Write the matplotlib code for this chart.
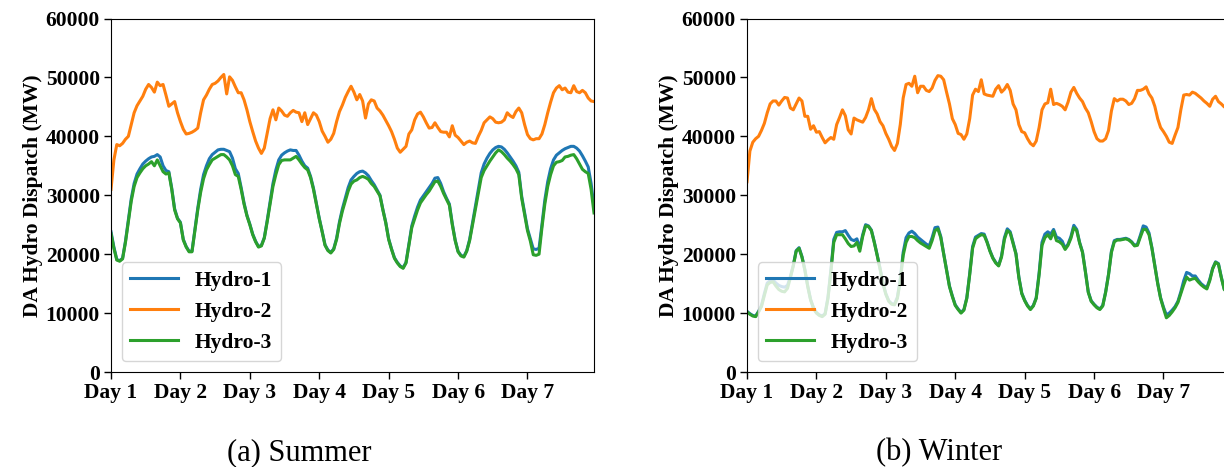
import matplotlib
matplotlib.use("Agg")
import matplotlib.pyplot as plt
import numpy as np

# ---- data (values in thousands of MW, hourly over one week) ----
summer_hydro1 = [23.8, 21.2, 19.1, 18.9, 19.3, 22.2, 25.8, 29.4, 32.0, 33.6, 34.5, 35.3, 35.8, 36.2, 36.5, 36.6, 36.9, 36.5, 35.0, 34.2,
                 34.0, 31.2, 27.7, 26.1, 25.4, 22.5, 21.3, 20.5, 20.5, 24.2, 27.8, 31.0, 33.5, 35.0, 36.2, 36.9, 37.3, 37.7, 37.8, 37.8,
                 37.6, 37.4, 36.3, 34.5, 33.7, 31.3, 28.7, 26.6, 25.1, 23.4, 22.2, 21.3, 21.5, 22.8, 25.7, 28.8, 32.0, 34.3, 36.0, 36.8,
                 37.2, 37.5, 37.7, 37.6, 37.6, 36.8, 35.8, 35.0, 34.6, 33.2, 31.2, 28.6, 26.1, 23.9, 21.6, 20.7, 20.3, 20.9, 22.7, 25.5,
                 27.7, 29.5, 31.3, 32.6, 33.2, 33.7, 34.0, 34.1, 33.8, 33.3, 32.5, 31.8, 30.9, 30.0, 27.6, 25.4, 22.6, 20.9, 19.4, 18.6,
                 18.0, 17.7, 18.6, 21.7, 24.8, 26.5, 28.0, 29.2, 29.9, 30.6, 31.3, 32.0, 32.9, 33.0, 32.0, 30.6, 29.5, 28.5, 25.2, 22.4,
                 20.5, 19.8, 19.6, 20.6, 22.5, 25.3, 28.2, 31.0, 33.8, 35.3, 36.3, 37.1, 37.7, 38.1, 38.3, 38.2, 37.8, 37.2, 36.5, 35.8,
                 35.0, 33.9, 29.8, 27.0, 24.3, 22.6, 20.9, 20.8, 21.0, 25.0, 29.2, 32.3, 34.5, 36.0, 36.8, 37.2, 37.6, 37.9, 38.1, 38.3,
                 38.3, 38.0, 37.5, 36.7, 35.8, 34.8, 32.0, 28.0]
summer_hydro2 = [31.0, 36.0, 38.6, 38.4, 38.8, 39.5, 40.0, 42.0, 44.0, 45.2, 46.0, 46.8, 48.0, 48.8, 48.3, 47.5, 49.2, 48.6, 48.8, 47.0,
                 45.1, 45.5, 45.9, 44.0, 42.5, 41.2, 40.4, 40.5, 40.7, 41.0, 41.4, 44.0, 46.2, 47.0, 48.0, 48.8, 49.0, 49.4, 50.0, 50.5,
                 47.2, 50.1, 49.5, 48.4, 47.4, 47.4, 46.2, 44.5, 42.5, 40.8, 39.2, 38.0, 37.1, 38.0, 40.5, 43.0, 44.5, 42.8, 44.8, 44.3,
                 43.6, 43.4, 44.0, 44.4, 44.1, 44.0, 42.5, 44.0, 42.0, 43.0, 44.0, 43.6, 42.5, 40.9, 40.0, 39.0, 39.5, 40.5, 42.5, 44.2,
                 45.3, 46.6, 47.6, 48.5, 47.5, 46.2, 47.1, 46.0, 43.1, 45.5, 46.2, 46.0, 44.8, 44.3, 43.6, 42.7, 41.8, 40.8, 39.5, 38.0,
                 37.3, 37.8, 38.3, 40.4, 41.1, 42.8, 43.8, 44.1, 43.3, 42.3, 41.4, 41.5, 42.3, 41.5, 40.8, 40.7, 40.7, 39.9, 41.8, 40.2,
                 39.8, 39.2, 38.6, 39.0, 39.2, 38.9, 38.8, 40.0, 41.0, 42.3, 42.8, 43.3, 43.0, 42.4, 42.3, 42.4, 42.8, 44.0, 43.5, 43.2,
                 44.2, 44.8, 44.0, 42.0, 40.3, 39.6, 39.4, 39.6, 39.6, 40.4, 42.0, 44.0, 45.8, 47.4, 48.2, 48.6, 47.9, 48.2, 47.5, 47.4,
                 48.6, 47.6, 47.4, 47.8, 47.4, 46.5, 46.0, 45.9]
summer_hydro3 = [23.5, 21.0, 19.0, 18.8, 19.2, 22.0, 25.5, 29.0, 31.5, 33.0, 33.8, 34.5, 35.0, 35.3, 35.7, 35.0, 36.0, 35.0, 34.0, 33.6,
                 33.8, 31.0, 27.5, 26.0, 25.3, 22.4, 21.2, 20.4, 20.4, 24.0, 27.5, 30.5, 32.8, 34.3, 35.2, 36.0, 36.3, 36.6, 36.9, 36.9,
                 36.5, 36.0, 35.0, 33.5, 33.2, 31.0, 28.5, 26.5, 25.0, 23.3, 22.1, 21.2, 21.4, 22.7, 25.5, 28.5, 31.5, 33.5, 35.2, 35.9,
                 36.0, 36.0, 36.0, 36.3, 36.6, 36.0, 35.3, 34.7, 34.3, 33.0, 31.0, 28.5, 26.0, 23.8, 21.5, 20.6, 20.2, 20.8, 22.5, 25.2,
                 27.3, 29.0, 30.7, 31.9, 32.4, 32.6, 33.0, 33.2, 33.0, 32.7, 32.0, 31.5, 30.7, 29.9, 27.5, 25.3, 22.5, 20.8, 19.3, 18.5,
                 17.9, 17.6, 18.5, 21.5, 24.5, 26.0, 27.5, 28.7, 29.4, 30.1, 30.7, 31.5, 32.3, 32.4, 31.5, 30.3, 29.3, 28.3, 25.0, 22.3,
                 20.4, 19.7, 19.5, 20.5, 22.3, 25.0, 27.8, 30.3, 33.0, 34.2, 35.0, 35.8, 36.5, 37.2, 37.7, 37.4, 36.9, 36.3, 35.8, 35.2,
                 34.5, 33.5, 29.5, 26.8, 24.0, 22.2, 19.9, 19.8, 20.0, 24.5, 28.5, 31.5, 33.5, 35.0, 35.6, 35.7, 35.9, 36.5, 36.6, 36.8,
                 36.9, 36.2, 35.3, 34.4, 34.0, 33.7, 31.0, 27.0]

winter_hydro1 = [10.3, 9.9, 9.6, 9.5, 10.3, 11.3, 13.3, 15.1, 15.5, 15.6, 15.1, 14.7, 14.5, 14.4, 14.7, 16.2, 18.1, 20.6, 21.1, 19.6,
                 17.4, 14.6, 12.3, 10.9, 10.1, 9.7, 9.5, 9.9, 12.7, 17.3, 22.5, 23.7, 23.8, 23.8, 24.0, 23.2, 22.5, 22.3, 22.6, 21.0,
                 23.3, 25.0, 24.8, 24.1, 22.1, 19.9, 17.6, 15.1, 13.3, 12.1, 11.6, 11.5, 12.7, 15.8, 20.3, 22.8, 23.6, 23.9, 23.5, 22.9,
                 22.5, 22.1, 21.7, 21.4, 22.8, 24.5, 24.6, 23.0, 20.1, 17.4, 14.6, 12.9, 11.4, 10.7, 10.1, 10.6, 12.6, 16.7, 21.3, 22.9,
                 23.2, 23.5, 23.4, 22.1, 20.6, 19.4, 18.6, 18.1, 19.7, 22.8, 24.3, 23.8, 22.0, 20.1, 16.1, 13.4, 12.2, 11.3, 10.7, 11.3,
                 12.6, 16.8, 22.0, 23.4, 23.8, 23.4, 24.2, 22.9, 22.7, 22.2, 21.0, 21.7, 23.0, 24.9, 24.2, 22.0, 20.4, 17.1, 13.6, 12.1,
                 11.5, 11.0, 10.7, 11.3, 13.6, 16.6, 20.5, 22.3, 22.5, 22.5, 22.6, 22.7, 22.5, 22.1, 21.5, 21.7, 23.2, 24.8, 24.6, 23.6,
                 21.1, 18.1, 15.1, 12.6, 11.0, 9.7, 10.0, 10.5, 11.1, 12.0, 13.6, 15.5, 16.9, 16.7, 16.3, 16.3, 15.6, 15.0, 14.6, 14.3,
                 15.7, 17.6, 18.7, 18.4, 16.1, 14.1, 13.6, 13.6]
winter_hydro2 = [32.3, 37.5, 39.0, 39.6, 40.0, 41.0, 42.2, 44.0, 45.5, 46.0, 46.0, 45.3, 46.0, 46.6, 46.5, 44.8, 44.5, 45.5, 46.5, 46.0,
                 43.4, 43.4, 41.2, 41.8, 40.7, 40.8, 39.8, 38.9, 39.4, 39.8, 39.5, 42.0, 43.2, 44.5, 43.5, 41.1, 40.4, 43.1, 42.8, 42.6,
                 42.4, 43.2, 44.5, 46.4, 44.6, 43.8, 42.5, 41.8, 40.5, 39.5, 38.3, 37.6, 38.8, 42.0, 46.5, 48.8, 49.0, 48.5, 50.2, 47.4,
                 48.5, 48.5, 47.8, 47.6, 48.2, 49.5, 50.3, 50.2, 49.6, 47.5, 45.5, 43.0, 42.0, 40.5, 40.3, 39.5, 40.4, 43.0, 47.0, 48.0,
                 47.6, 49.6, 47.2, 47.0, 46.9, 46.8, 48.0, 48.6, 47.5, 48.0, 48.8, 47.8, 45.5, 44.5, 42.0, 40.8, 40.6, 39.6, 38.8, 38.4,
                 39.2, 41.5, 44.5, 45.5, 45.7, 48.0, 45.4, 45.6, 45.4, 45.1, 44.5, 45.8, 47.5, 48.3, 47.3, 46.5, 45.9, 44.8, 44.0, 42.5,
                 40.8, 39.6, 39.2, 39.2, 39.6, 41.0, 44.3, 46.4, 46.0, 46.3, 46.3, 46.0, 45.4, 45.6, 46.4, 47.8, 47.8, 48.0, 48.4, 47.2,
                 46.5, 45.1, 43.0, 41.5, 40.8, 40.0, 39.0, 38.8, 40.2, 41.5, 44.5, 47.0, 47.1, 47.0, 47.5, 47.3, 46.9, 46.5, 46.0, 45.6,
                 45.1, 46.3, 46.8, 45.9, 45.5, 45.0, 44.8, 44.6]
winter_hydro3 = [10.2, 9.8, 9.5, 9.4, 10.2, 11.1, 13.0, 14.8, 15.2, 15.3, 14.6, 14.0, 13.7, 13.6, 14.2, 16.0, 18.0, 20.5, 21.0, 19.5,
                 17.3, 14.5, 12.2, 10.8, 10.0, 9.6, 9.4, 9.8, 12.5, 17.0, 22.0, 23.3, 23.3, 23.3, 22.6, 21.8, 21.3, 21.4, 22.0, 20.5,
                 23.0, 24.8, 24.7, 24.0, 22.0, 19.8, 17.5, 15.0, 13.2, 12.0, 11.5, 11.4, 12.5, 15.5, 19.8, 22.0, 23.0, 23.0, 22.8, 22.3,
                 21.9, 21.6, 21.3, 21.0, 22.3, 24.0, 24.3, 22.8, 20.0, 17.3, 14.5, 12.8, 11.3, 10.6, 10.0, 10.5, 12.5, 16.5, 21.0, 22.6,
                 23.0, 23.3, 23.2, 22.0, 20.5, 19.3, 18.5, 18.0, 19.5, 22.5, 24.0, 23.6, 21.8, 20.0, 16.0, 13.3, 12.1, 11.2, 10.6, 11.2,
                 12.5, 16.5, 21.5, 22.8, 23.3, 22.6, 23.9, 22.3, 22.1, 21.7, 20.8, 21.5, 22.7, 24.5, 24.0, 21.9, 20.3, 17.0, 13.5, 12.0,
                 11.4, 10.9, 10.6, 11.2, 13.5, 16.5, 20.3, 22.1, 22.4, 22.4, 22.5, 22.6, 22.4, 22.0, 21.4, 21.5, 22.9, 24.2, 24.2, 23.3,
                 21.0, 18.0, 15.0, 12.5, 10.8, 9.2, 9.6, 10.2, 10.9, 11.8, 13.3, 14.8, 16.1, 15.6, 15.8, 15.9, 15.3, 14.8, 14.4, 14.1,
                 15.5, 17.5, 18.6, 18.3, 16.0, 14.0, 13.5, 13.5]

series_names = ["Hydro-1", "Hydro-2", "Hydro-3"]
day_labels = ["Day 1", "Day 2", "Day 3", "Day 4", "Day 5", "Day 6", "Day 7"]
y_ticks = [0, 10000, 20000, 30000, 40000, 50000, 60000]
captions = ["(a) Summer", "(b) Winter"]

colors = ["#1f77b4", "#ff7f0e", "#2ca02c"]

plt.rcParams['font.family'] = ['Liberation Serif', 'DejaVu Serif']

W, H = 1224, 467
fig = plt.figure(figsize=(W / 100, H / 100), dpi=100)

ax_left_px = [111, 747]
ax_w_px = 483
ax_top_px, ax_bot_px = 18.5, 372
caption_x_px = [299, 939]

panels = [
    (summer_hydro1, summer_hydro2, summer_hydro3),
    (winter_hydro1, winter_hydro2, winter_hydro3),
]

for i, data in enumerate(panels):
    ax = fig.add_axes([ax_left_px[i] / W, (H - ax_bot_px) / H, ax_w_px / W, (ax_bot_px - ax_top_px) / H])
    for vals, name, c in zip(data, series_names, colors):
        v = np.array(vals) * 1000
        hours = np.arange(len(v))
        ax.plot(hours, v, color=c, lw=2.2, label=name)
    ax.set_xlim(0, 167)
    ax.set_ylim(0, 60000)
    ax.set_xticks(np.arange(len(day_labels)) * 24)
    ax.set_xticklabels(day_labels, fontsize=15.5, fontweight='bold')
    ax.set_yticks(y_ticks)
    ax.set_yticklabels([str(t) for t in y_ticks], fontsize=15.5, fontweight='bold')
    ax.tick_params(axis='both', length=5, width=1, pad=3)
    ax.set_ylabel("DA Hydro Dispatch (MW)", fontsize=15.5, fontweight='bold', labelpad=2)
    ax.legend(loc='lower left', prop={'size': 15.5, 'weight': 'bold'}, handlelength=2.2)
    fig.text(caption_x_px[i] / W, 1 - 453 / H, captions[i], fontsize=22, ha='center', va='center')

fig.savefig("out.png", dpi=100)
